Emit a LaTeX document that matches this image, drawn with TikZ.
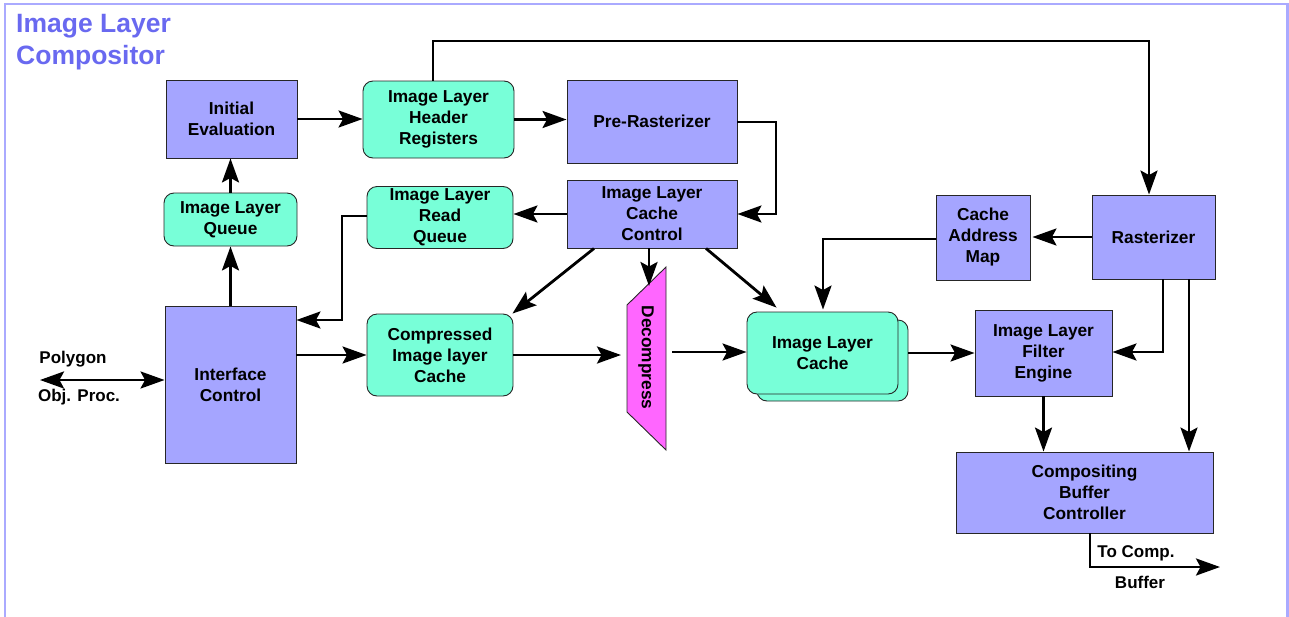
\documentclass[tikz,border=0pt]{standalone}
\usepackage{fontspec}
\setmainfont{Liberation Sans}
\usetikzlibrary{arrows.meta,calc}
\definecolor{pur}{RGB}{165,165,255}
\definecolor{aqua}{RGB}{120,255,216}
\definecolor{mag}{RGB}{255,102,255}
\definecolor{frame}{RGB}{170,170,255}
\definecolor{ttl}{RGB}{105,105,240}
\tikzset{
  pbox/.style={draw=black!85, fill=pur, line width=0.9pt, inner sep=0pt, align=center,
    font=\bfseries\fontsize{17.3}{21}\selectfont},
  cbox/.style={pbox, fill=aqua, rounded corners=10pt},
  tip/.tip={Stealth[length=24pt,width=17pt,inset=4.5pt]},
  conn/.style={line width=2.8pt, -tip},
  dconn/.style={line width=2.8pt, tip-tip},
  lbl/.style={inner sep=0pt, font=\bfseries\fontsize{17}{20}\selectfont},
  ttlstyle/.style={inner sep=0pt, anchor=base west, text=ttl, font=\bfseries\fontsize{26.5}{32}\selectfont}
}
\begin{document}
\begin{tikzpicture}[x=1pt,y=-1pt]
\useasboundingbox (0,0) rectangle (1289,616);
\draw[frame, line width=2.5pt] (5,620) -- (5,4) -- (1287.5,4) -- (1287.5,620);
\node[ttlstyle] (t1) at (16,32) {Image Layer};
\node[ttlstyle] (t2) at (16,64) {Compositor};

% boxes
\node[pbox, minimum width=131pt, minimum height=78pt] (init) at (231.5,119) {Initial\\Evaluation};
\node[cbox, minimum width=151pt, minimum height=77pt] (hdr) at (438.5,119.5) {Image Layer\\Header\\Registers};
\node[pbox, minimum width=170pt, minimum height=83pt] (pre) at (652,121.5) {Pre-Rasterizer};
\node[cbox, minimum width=133pt, minimum height=53pt] (que) at (230.5,219.5) {Image Layer\\Queue};
\node[cbox, minimum width=146pt, minimum height=62pt] (rq) at (440,217.5) {Image Layer\\Read\\Queue};
\node[pbox, minimum width=170pt, minimum height=68pt] (icc) at (652,214) {Image Layer\\Cache\\Control};
\node[pbox, minimum width=131pt, minimum height=157pt] (ifc) at (230.5,384.5) {Interface\\Control};
\node[cbox, minimum width=146pt, minimum height=82pt] (cmp) at (440,355) {Compressed\\Image layer\\Cache};
\node[cbox, minimum width=151pt, minimum height=81pt] (ilcback) at (832.5,360.5) {};
\node[cbox, minimum width=151pt, minimum height=82pt] (ilc) at (822.5,353) {Image Layer\\Cache};
\node[pbox, minimum width=94pt, minimum height=85pt] (cam) at (983,237.5) {Cache\\Address\\Map};
\node[pbox, minimum width=123pt, minimum height=84pt] (ras) at (1153.5,237) {Rasterizer};
\node[pbox, minimum width=137pt, minimum height=86pt] (fe) at (1043.5,353) {Image Layer\\Filter\\Engine};
\node[pbox, minimum width=257pt, minimum height=81pt] (cbc) at (1084.5,492.5) {Compositing\\Buffer\\Controller};

% decompress trapezoid
\coordinate (dtr) at (666,267);
\coordinate (dtl) at (627,305);
\coordinate (dbl) at (627,412);
\coordinate (dbr) at (666,450);
\draw[fill=mag, draw=black!85, line width=0.9pt] (dtr) -- (dtl) -- (dbl) -- (dbr) -- cycle;
\node[inner sep=0pt, rotate=-90, font=\bfseries\fontsize{17.3}{21}\selectfont] (dec) at (646,357.5) {Decompress};

% connectors
\draw[conn] (init.east) -- (init.east -| hdr.west);
\draw[conn] (hdr.east) -- (hdr.east -| pre.west);
\coordinate (ta) at (433,41);
\coordinate (tb) at (1149,41);
\draw[conn] (hdr.north -| ta) -- (ta) -- (tb) -- (tb |- ras.north);
\coordinate (pr) at (776,122);
\draw[conn] (pre.east |- pr) -- (pr) -- (pr |- icc.east) -- (icc.east);
\draw[conn] (icc.west) -- (icc.west -| rq.east);
\coordinate (rqa) at (342,216);
\coordinate (rqb) at (342,320);
\draw[conn] (rq.west |- rqa) -- (rqa) -- (rqb) -- (rqb -| ifc.east);
\draw[conn] (ifc.north) -- (que.south);
\draw[conn] (que.north) -- (que.north |- init.south);
\coordinate (poly) at (40,380);
\draw[dconn] (poly) -- (poly -| ifc.west);
\draw[conn] (ifc.east |- cmp.west) -- (cmp.west);
\draw[conn] (cmp.east) -- ([xshift=-6pt]cmp.east -| dtl);
\coordinate (dr) at (672,352);
\draw[conn] (dr) -- (dr -| ilc.west);
\coordinate (dtop) at (649,286);
\draw[conn] (icc.south -| dtop) -- (dtop);
\draw[conn] ([xshift=-58pt]icc.south) -- ([xshift=-1pt,yshift=0pt]cmp.north east);
\draw[conn] ([xshift=54pt]icc.south) -- ([xshift=30pt,yshift=4pt]ilc.north west);
\coordinate (cm1) at (823,239);
\draw[conn] (cam.west |- cm1) -- (cm1) -- ([yshift=2pt]cm1 |- ilc.north);
\draw[conn] (ras.west) -- ([xshift=2pt]ras.west -| cam.east);
\draw[conn] (ilcback.east |- ilc.east) -- (ilc.east -| fe.west);
\coordinate (r1) at (1163,352);
\draw[conn] (ras.south -| r1) -- (r1) -- (r1 -| fe.east);
\coordinate (r2) at (1189,300);
\draw[conn] (ras.south -| r2) -- (cbc.north -| r2);
\draw[conn] (fe.south) -- (fe.south |- cbc.north);
\coordinate (o1) at (1090,567);
\coordinate (o2) at (1220,567);
\draw[conn] (cbc.south -| o1) -- (o1) -- (o2);

% labels
\node[lbl] (lp) at (73,359) {Polygon};
\node[lbl] (lo) at (79,397) {Obj. Proc.};
\node[lbl] (lt) at (1136,553) {To Comp.};
\node[lbl] (lb) at (1140,582) {Buffer};
\end{tikzpicture}
\end{document}
